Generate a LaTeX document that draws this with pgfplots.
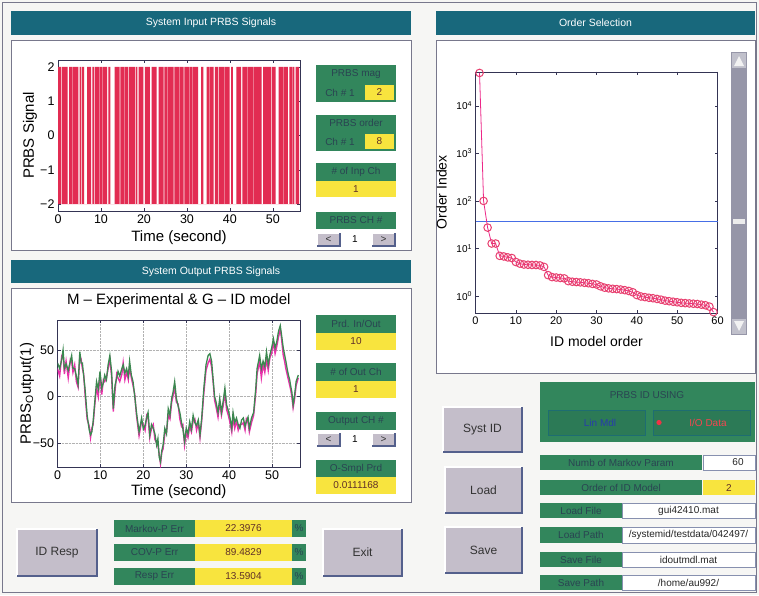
\documentclass[border=0pt]{standalone}
\usepackage{pgfplots}
\pgfplotsset{compat=1.18}
\usepackage{pgfplotstable}
\usepackage{fontspec}
\setmainfont{Liberation Sans}
\definecolor{bg}{RGB}{246,246,244}
\definecolor{tbar}{RGB}{24,104,124}
\definecolor{grn}{RGB}{50,134,92}
\definecolor{grnd}{RGB}{44,122,86}
\definecolor{gtxt}{RGB}{42,68,82}
\definecolor{ylw}{RGB}{248,228,62}
\definecolor{ytxt}{RGB}{96,48,40}
\definecolor{btn}{RGB}{196,190,202}
\definecolor{btnd}{RGB}{84,96,140}
\definecolor{prbs}{RGB}{226,44,82}
\definecolor{mgrn}{RGB}{60,136,80}
\definecolor{mmag}{RGB}{232,48,170}
\definecolor{ordc}{RGB}{232,64,112}
\definecolor{bline}{RGB}{70,110,230}
\definecolor{axc}{RGB}{52,52,84}
\definecolor{pnl}{RGB}{120,120,140}
\definecolor{sbar}{RGB}{150,150,168}
\definecolor{iored}{RGB}{240,50,70}
\definecolor{iotxt}{RGB}{245,70,80}
\definecolor{lintxt}{RGB}{40,60,170}
\newcommand\wf{\fontsize{10}{10}\selectfont}
\newcommand\tb[5]{\fill[tbar] (#1,-#2) rectangle (#3,-#4); \path (#1,-#2) rectangle (#3,-#4) node[midway,text=white,font=\fontsize{10.5}{11}\selectfont]{#5};}
\newcommand\gb[5]{\fill[grn] (#1,-#2) rectangle (#3,-#4); \path (#1,-#2) rectangle (#3,-#4) node[midway,text=gtxt,font=\wf]{#5};}
\newcommand\yb[5]{\fill[ylw] (#1,-#2) rectangle (#3,-#4); \path (#1,-#2) rectangle (#3,-#4) node[midway,text=ytxt,font=\wf]{#5};}
\newcommand\wb[5]{\filldraw[fill=white,draw=btnd!70,line width=0.6] (#1,-#2) rectangle (#3,-#4); \path (#1,-#2) rectangle (#3,-#4) node[midway,text=black!85,font=\wf]{#5};}
\newcommand\bt[6]{\fill[btn] (#1,-#2) rectangle (#3,-#4);
 \draw[white,line width=1.5] (#1,-#4) -- (#1,-#2) -- (#3,-#2);
 \draw[btnd,line width=1.5] (#1,-#4) -- (#3,-#4) -- (#3,-#2);
 \path (#1,-#2) rectangle (#3,-#4) node[midway,text=black!80,font=#6]{#5};}

\pgfplotstableread{
t g m
0 36 30
0.5 30 22
1.0 40 44
1.3 50 46
1.6 30 24
2.0 35 38
2.5 28 20
3.0 38 40
3.3 44 38
3.6 30 26
4.0 30 34
4.4 22 16
4.8 13 10
5.2 48 44
5.5 36 40
5.8 36 30
6.1 22 24
6.4 9 4
6.9 -20 -24
7.4 -36 -32
7.7 -41 -44
8.0 -38 -34
8.3 -27 -30
8.7 -5 -8
9.1 16 10
9.5 8 0
9.9 27 24
10.3 9 2
10.7 15 18
11.0 23 16
11.4 18 20
11.8 34 30
12.2 44 40
12.6 27 22
13.0 -13 -16
13.4 12 6
13.8 20 24
14.1 27 20
14.5 22 16
15.0 30 24
15.3 34 36
15.7 25 18
16.1 30 26
16.5 22 18
16.8 38 32
17.2 23 20
17.6 16 12
18.0 0 2
18.4 -17 -20
19.0 -38 -42
19.6 -23 -26
20.0 -35 -30
20.4 -31 -36
20.8 -22 -20
21.1 -17 -22
21.5 -41 -44
21.9 -30 -34
22.3 -34 -30
22.7 -40 -46
23.1 -52 -50
23.4 -45 -52
23.7 -65 -62
24.0 -70 -72
24.3 -58 -60
24.6 -52 -56
25.0 -34 -40
25.4 -40 -38
25.8 -13 -20
26.2 -20 -24
26.6 -2 -6
26.9 4 0
27.3 16 10
27.7 -2 -6
28.1 -10 -8
28.5 -17 -24
28.9 -28 -32
29.2 -34 -30
29.6 -48 -52
30.0 -34 -38
30.4 -40 -44
30.8 -27 -32
31.2 -35 -38
31.6 -20 -26
32.0 -28 -24
32.4 -31 -36
32.8 -25 -28
33.2 -41 -44
33.6 -23 -26
34.1 9 4
34.6 34 28
35.1 44 36
35.5 46 40
35.9 38 32
36.3 16 14
36.6 0 -4
36.9 -5 -10
37.4 -17 -22
37.8 -2 -6
38.2 -17 -20
38.6 -5 -10
39.0 9 4
39.4 -9 -14
39.8 -15 -20
40.2 -23 -28
40.6 -34 -38
40.9 -17 -22
41.3 -28 -34
41.7 -23 -26
42.1 -30 -36
42.5 -34 -30
42.9 -25 -30
43.3 -23 -28
43.7 -32 -36
44.0 -27 -24
44.4 -22 -28
44.7 -34 -38
45.2 -23 -28
45.7 -17 -20
46.2 9 4
46.5 30 24
47.1 44 38
47.5 30 20
47.9 38 34
48.3 32 26
48.7 48 40
49.1 34 28
49.5 45 42
49.9 52 46
50.3 62 58
50.7 52 46
51.1 59 54
51.5 70 64
51.9 76 72
52.2 66 62
52.6 52 44
52.9 45 38
53.2 38 30
53.5 30 24
53.8 23 18
54.1 18 12
54.3 12 8
54.6 5 0
54.9 -9 -12
55.2 0 -4
55.6 16 12
56.1 23 20
}\outdata

\pgfplotstableread{
n idx
1 49000
2 100
3 27.5
4 12.7
5 12.7
6 7.0
7 6.8
8 6.5
9 6.3
10 5.2
11 4.8
12 4.6
13 4.55
14 4.5
15 4.5
16 4.4
17 4.1
18 2.75
19 2.5
20 2.45
21 2.4
22 2.35
23 2.06
24 2.0
25 1.97
26 1.94
27 1.9
28 1.86
29 1.8
30 1.75
31 1.6
32 1.5
33 1.45
34 1.42
35 1.4
36 1.37
37 1.33
38 1.28
39 1.2
40 1.05
41 0.98
42 0.95
43 0.92
44 0.9
45 0.87
46 0.84
47 0.8
48 0.78
49 0.76
50 0.74
51 0.72
52 0.71
53 0.70
54 0.69
55 0.68
56 0.66
57 0.64
58 0.60
59 0.46
}\orddata

\begin{document}
\begin{tikzpicture}[x=1pt,y=1pt]
\fill[bg] (0,0) rectangle (759,-595);
\draw[pnl,line width=1.2] (2.5,-2.5) rectangle (756.5,-592.5);
% panels
\tb{11}{11}{411}{35}{System Input PRBS Signals}
\filldraw[fill=white,draw=pnl,line width=1] (11,-40) rectangle (411,-250);
\tb{11}{260}{411}{283}{System Output PRBS Signals}
\filldraw[fill=white,draw=pnl,line width=1] (11,-288) rectangle (411,-502);
\tb{436}{11}{755}{35}{Order Selection}
\filldraw[fill=white,draw=pnl,line width=1] (436,-40) rectangle (755,-373);

% top-left widgets
\gb{316}{65}{396}{102}{}
\node[text=gtxt,font=\wf] at (356,-74) {PRBS mag};
\node[text=gtxt,font=\wf] at (340,-93) {Ch \# 1};
\yb{365}{85}{394}{100}{2}
\gb{316}{115}{396}{151}{}
\node[text=gtxt,font=\wf] at (356,-123) {PRBS order};
\node[text=gtxt,font=\wf] at (340,-142) {Ch \# 1};
\yb{365}{134}{394}{149}{8}
\gb{316}{163}{396}{181}{\# of Inp Ch}
\yb{316}{181}{396}{197}{1}
\gb{316}{212}{396}{229}{PRBS CH \#}
\bt{317}{233}{340}{246}{<}{\wf}
\node[font=\wf] at (355,-239) {1};
\bt{372}{233}{395}{246}{>}{\wf}

% bottom-left widgets
\gb{316}{315}{396}{333}{Prd. In/Out}
\yb{316}{333}{396}{350}{10}
\gb{316}{363}{396}{381}{\# of Out Ch}
\yb{316}{381}{396}{398}{1}
\gb{316}{412}{396}{430}{Output CH \#}
\bt{317}{433}{340}{446}{<}{\wf}
\node[font=\wf] at (355,-439) {1};
\bt{372}{433}{395}{446}{>}{\wf}
\gb{316}{460}{396}{477}{O-Smpl Prd}
\yb{316}{477}{396}{494}{0.0111168}

% bottom row
\bt{17}{529}{97}{576}{ID Resp}{\fontsize{12}{12}\selectfont}
\gb{114}{520}{195}{537}{Markov-P Err}
\yb{195}{520}{292}{537}{22.3976}
\gb{292}{520}{306}{537}{\%}
\gb{114}{544}{195}{561}{COV-P Err}
\yb{195}{544}{292}{561}{89.4829}
\gb{292}{544}{306}{561}{\%}
\gb{114}{568}{195}{585}{Resp Err}
\yb{195}{568}{292}{585}{13.5904}
\gb{292}{568}{306}{585}{\%}
\bt{323}{529}{402}{576}{Exit}{\fontsize{12}{12}\selectfont}

% bottom right
\bt{443}{407}{522}{452}{Syst ID}{\fontsize{12}{12}\selectfont}
\bt{445}{467}{522}{513}{Load}{\fontsize{12}{12}\selectfont}
\bt{445}{527}{522}{573}{Save}{\fontsize{12}{12}\selectfont}
\fill[grn] (540,-382) rectangle (755,-442);
\node[text=gtxt,font=\wf] at (647,-395) {PRBS ID USING};
\filldraw[fill=grnd,draw=tbar!70!grnd,line width=0.8] (548,-410) rectangle (645,-435);
\node[text=lintxt,font=\wf] at (600,-422.5) {Lin Mdl};
\filldraw[fill=grnd,draw=tbar!70!grnd,line width=0.8] (653,-410) rectangle (750,-435);
\fill[iored] (659,-422.5) circle (2.6);
\node[text=iotxt,font=\wf] at (708,-422.5) {I/O Data};
\gb{540}{455}{702}{470}{Numb of Markov Param}
\wb{703}{455}{755}{470}{\hspace*{18pt}60}
\gb{540}{480}{702}{495}{Order of ID Model}
\yb{703}{480}{755}{495}{2}
\gb{540}{503}{622}{518}{Load File}
\wb{622}{503}{755}{518}{gui42410.mat}
\gb{540}{527}{622}{543}{Load Path}
\wb{622}{527}{755}{543}{/systemid/testdata/042497/}
\gb{540}{552}{622}{567}{Save File}
\wb{622}{552}{755}{567}{idoutmdl.mat}
\gb{540}{575}{622}{590}{Save Path}
\wb{622}{575}{755}{590}{/home/au992/}

% scrollbar
\fill[sbar] (731,-52) rectangle (747,-335);
\fill[sbar!60] (732,-53) rectangle (746,-68);
\fill[sbar!60] (732,-319) rectangle (746,-334);
\fill[white!90!gray] (734,-66) -- (739,-56) -- (744,-66) -- cycle;
\fill[white!90!gray] (734,-321) -- (739,-331) -- (744,-321) -- cycle;
\fill[white!85!gray] (733,-219) rectangle (745,-224);

% ---------- PRBS input axis
\begin{axis}[scale only axis, width=242pt, height=151pt,
  at={(58pt,-211pt)}, anchor=south west,
  xmin=0, xmax=56.3, ymin=-2.2, ymax=2.2,
  xtick={0,10,20,30,40,50}, ytick={-2,-1,0,1,2},
  yticklabels={−2,−1,0,1,2},
  axis line style={axc}, tick style={axc}, major tick length=3pt,
  tick label style={font=\fontsize{12.5}{13}\selectfont},
  /pgf/number format/assume math mode=true,
  xlabel={Time (second)}, ylabel={PRBS Signal},
  label style={font=\fontsize{15}{16}\selectfont},
  xlabel style={at={(axis description cs:0.5,-0.179)},anchor=center},
  ylabel style={at={(axis description cs:-0.116,0.5)},anchor=center},
  axis background/.style={fill=white}]
\addplot[const plot, draw=none, fill=prbs] coordinates {
(0,-2) (0,2) (0.80,-2) (0.95,2) (2.25,-2) (2.60,2) (3.30,-2) (3.42,2)
(4.75,-2) (5.05,2) (5.45,-2) (5.60,2) (6.05,-2) (6.75,2) (7.70,-2) (8.00,2)
(8.35,-2) (8.50,2) (9.50,-2) (9.62,2) (10.30,-2) (10.42,2)
(11.40,-2) (11.70,2) (12.20,-2) (13.20,2) (14.35,-2) (14.50,2)
(15.50,-2) (15.62,2) (16.40,-2) (16.52,2) (17.90,-2) (18.05,2)
(18.45,-2) (18.75,2) (19.85,-2) (20.20,2) (21.35,-2) (21.80,2) (22.95,-2) (23.40,2)
(24.60,-2) (24.72,2) (25.50,-2) (25.62,2)
(26.90,-2) (27.05,2) (28.20,-2) (28.32,2) (29.25,-2) (29.40,2)
(30.50,-2) (30.62,2) (31.30,-2) (31.42,2)
(32.60,-2) (33.30,2) (33.80,-2) (34.60,2) (35.20,-2) (35.32,2)
(36.20,-2) (36.50,2) (37.25,-2) (37.40,2) (38.75,-2) (38.90,2) (39.95,-2) (40.25,2)
(40.70,-2) (41.50,2) (42.60,-2) (42.90,2) (44.00,-2) (44.12,2) (45.50,-2) (45.62,2)
(47.40,-2) (47.70,2) (49.65,-2) (49.80,2)
(50.60,-2) (51.30,2) (52.30,-2) (52.42,2) (53.50,-2) (53.80,2) (54.40,-2) (54.52,2)
(55.00,-2) (55.30,2) (56.10,-2)
} -- cycle;
\end{axis}

% ---------- output axis
\begin{axis}[scale only axis, width=242.5pt, height=147pt,
  at={(57.5pt,-467pt)}, anchor=south west,
  xmin=0, xmax=56.5, ymin=-75.5, ymax=82,
  xtick={0,10,20,30,40,50}, ytick={-50,0,50},
  yticklabels={−50,0,50},
  grid=major, major grid style={densely dotted, gray!60},
  axis line style={axc}, tick style={axc}, major tick length=3pt,
  tick label style={font=\fontsize{12.5}{13}\selectfont},
  /pgf/number format/assume math mode=true,
  title={M – Experimental \& G – ID model},
  title style={at={(axis description cs:0.5,1.09)},anchor=center,font=\fontsize{15}{16}\selectfont},
  xlabel={Time (second)}, ylabel={PRBS\textsubscript{O}utput(1)},
  label style={font=\fontsize{15}{16}\selectfont},
  xlabel style={at={(axis description cs:0.5,-0.170)},anchor=center},
  ylabel style={at={(axis description cs:-0.126,0.5)},anchor=center},
  axis background/.style={fill=white}]
\addplot[mmag, line width=1.4pt] table[x=t,y=m] {\outdata};
\addplot[mgrn, line width=1.3pt] table[x=t,y=g] {\outdata};
\end{axis}

% ---------- order selection axis
\begin{axis}[scale only axis, width=242pt, height=241.3pt,
  at={(475.5pt,-313pt)}, anchor=south west,
  ymode=log, xmin=0, xmax=60, ymin=0.44, ymax=52000,
  xtick={0,10,20,30,40,50,60},
  ytick={1,10,100,1000,10000},
  yticklabels={10\textsuperscript{0},10\textsuperscript{1},10\textsuperscript{2},10\textsuperscript{3},10\textsuperscript{4}},
  yminorticks=false, clip=false,
  axis line style={axc}, tick style={axc}, major tick length=3pt,
  xticklabel style={font=\fontsize{11}{12}\selectfont},
  yticklabel style={font=\fontsize{10}{11}\selectfont},
  /pgf/number format/assume math mode=true,
  xlabel={ID model order}, ylabel={Order Index},
  label style={font=\fontsize{14}{15}\selectfont},
  xlabel style={at={(axis description cs:0.5,-0.118)},anchor=center},
  ylabel style={at={(axis description cs:-0.140,0.5)},anchor=center},
  axis background/.style={fill=white}]
\addplot[bline, line width=0.9pt] coordinates {(0,36.5) (60,36.5)};
\addplot[mmag!80!red, line width=0.8pt, mark=o, mark size=3.8pt,
  mark options={ordc, line width=1pt}] table[x=n,y=idx] {\orddata};
\end{axis}
\end{tikzpicture}
\end{document}
